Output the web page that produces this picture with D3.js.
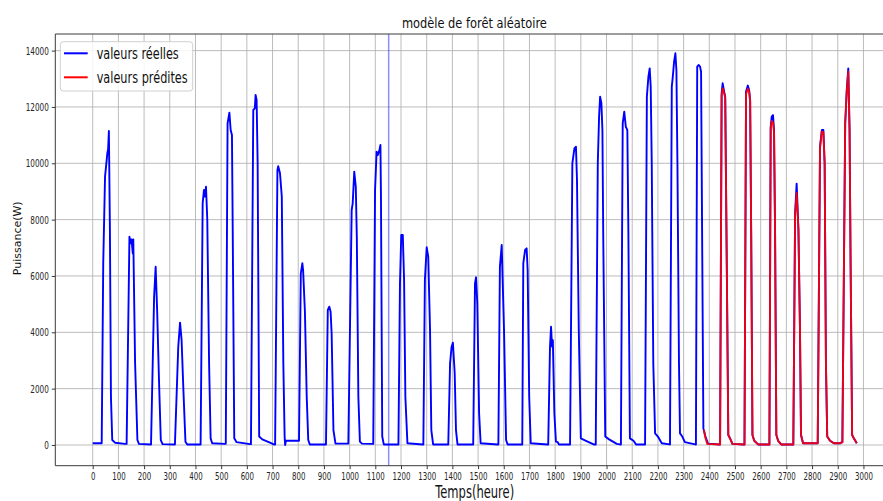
<!DOCTYPE html>
<html><head><meta charset="utf-8">
<script src="https://cdn.jsdelivr.net/npm/d3@7"></script>
<style>body{margin:0;background:#fff}</style>
</head><body>
<svg id="c" width="883" height="501"></svg>
<script>
// ---------------- data ----------------
const chartTitle = "modèle de forêt aléatoire";
const xLabel = "Temps(heure)";
const yLabel = "Puissance(W)";
const seriesNames = ["valeurs réelles", "valeurs prédites"];
const xTicks = [0,100,200,300,400,500,600,700,800,900,1000,1100,1200,1300,1400,1500,1600,1700,1800,1900,2000,2100,2200,2300,2400,2500,2600,2700,2800,2900,3000];
const yTicks = [0,2000,4000,6000,8000,10000,12000,14000];
const splitHour = 1152;

const realHours = [
  0,35,41,48,57,60,63,67,71,76,87,126,
  132,143,148,151,156,158,165,174,180,226,
  227,239,245,251,258,265,272,318,
  320,333,340,346,353,361,368,418,
  420,428,433,437,441,446,453,459,465,515,
  518,525,532,537,542,545,551,560,612,
  616,625,631,634,638,642,648,660,690,705,
  710,719,722,729,736,742,747,749,752,800,
  803,810,816,819,826,833,839,845,905,
  908,915,921,926,930,937,945,992,
  995,1008,1012,1018,1024,1028,1034,1040,1048,1088,
  1092,1099,1105,1110,1116,1120,1122,1127,1133,1187,
  1190,1196,1201,1207,1212,1217,1225,1284,
  1287,1293,1300,1306,1313,1318,1325,1381,
  1384,1391,1397,1402,1409,1414,1420,1478,
  1481,1488,1492,1497,1504,1510,1576,
  1579,1585,1592,1596,1601,1609,1615,1669,
  1672,1676,1683,1689,1693,1699,1705,1770,
  1773,1780,1784,1788,1791,1797,1803,1810,1815,1855,
  1858,1867,1875,1881,1885,1892,1900,1920,1950,
  1958,1966,1971,1975,1980,1984,1987,1995,2010,2040,2052,
  2056,2063,2069,2075,2081,2085,2091,2105,2115,2147,
  2150,2157,2163,2168,2172,2176,2182,2189,2200,2215,2245,
  2247,2254,2258,2263,2268,2272,2276,2282,2286,2295,2305,2345,
  2348,2353,2359,2364,2368,2372,2377,2385,2395,2440,
  2442,2448,2452,2459,2462,2468,2474,2480,2490,2535,
  2537,2543,2550,2555,2559,2563,2568,2575,2590,2632,
  2634,2639,2643,2648,2652,2656,2661,2668,2680,2725,
  2727,2734,2740,2747,2753,2757,2765,2817,
  2822,2831,2838,2844,2849,2854,2859,2870,2885,2910,2915,
  2918,2929,2935,2941,2946,2950,2956,2962,2974
];
const realPower = [
  60,60,6450,9525,10355,10500,11150,7632,1715,177,82,40,
  40,7395,7160,7300,6805,7300,2900,177,40,20,
  20,5265,6330,4730,2307,177,30,20,
  20,3490,4342,3720,1952,118,20,20,
  20,8580,9052,8815,9170,7987,2900,236,60,40,
  40,11420,11797,11182,11005,7630,236,100,30,
  30,11892,11950,12425,12250,10000,300,200,80,20,
  20,9760,9900,9645,8815,2900,300,0,150,150,
  150,6095,6450,6200,4730,1715,177,20,20,
  20,4792,4910,4730,3965,530,50,50,
  50,8342,8580,9702,9170,7395,1715,118,50,40,
  40,9052,10415,10297,10470,10650,8815,300,20,20,
  20,5740,7455,7455,5857,1715,60,20,
  20,5857,7018,6687,4087,530,20,20,
  20,2900,3490,3632,2545,530,20,20,
  20,5740,5952,5030,1125,60,20,
  20,6332,7100,5740,4087,177,20,20,
  20,6450,6922,6980,6200,1715,60,20,
  20,3490,4200,3490,3720,1125,118,100,20,20,
  20,10000,10532,10590,9407,4087,236,150,20,
  20,10000,11655,12365,12130,11180,7630,300,200,40,20,
  20,11420,11832,11300,11180,7630,236,150,20,20,
  20,12365,13075,13370,12720,10000,2900,414,300,60,20,
  20,12720,13075,13607,13905,13310,10000,2900,414,300,100,20,
  20,13430,13490,13430,13250,7630,590,300,50,20,
  20,12485,12840,12485,12365,6450,355,250,40,20,
  20,12545,12760,12600,12250,7630,355,150,20,20,
  20,11300,11655,11710,11180,7630,355,150,20,20,
  20,8225,9280,7630,4087,355,60,60,
  60,10590,11182,11182,10000,2900,300,150,60,60,100,
  100,11420,12600,13370,11180,6450,355,250,60
];

const predHours = [
  2379,2385,2392,2440,
  2442,2448,2452,2459,2462,2468,2474,2480,2490,2535,
  2537,2543,2550,2555,2559,2563,2568,2575,2590,2632,
  2634,2639,2643,2648,2652,2656,2661,2668,2680,2725,
  2727,2734,2740,2747,2753,2757,2765,2817,
  2822,2831,2838,2844,2849,2854,2859,2870,2885,2910,2915,
  2918,2929,2935,2941,2946,2950,2956,2962,2974
];
const predPower = [
  532,250,40,20,
  20,12400,12660,12450,12300,6450,355,250,40,20,
  20,12450,12650,12560,12200,7630,355,150,20,20,
  20,11250,11500,11450,11100,7630,355,150,20,20,
  20,8150,8950,7630,4087,355,60,60,
  60,10550,11130,11100,10000,2900,300,150,60,60,100,
  100,11420,12550,13250,11180,6450,355,250,60
];

// ---------------- drawing ----------------
const svg = d3.select("#c");
svg.append("rect").attr("width", 883).attr("height", 501).attr("fill", "#fff");

const L = 55.3, R = 893.5, T = 34, B = 465.7;
const x = d3.scaleLinear().domain([-145.6, 3117]).range([L, R]);
const y = d3.scaleLinear().domain([-735, 14590]).range([B, T]);
const FONT = "DejaVu Sans, sans-serif";

function squeeze(sel, f) {
  sel.each(function () {
    const w = this.getComputedTextLength();
    this.setAttribute("textLength", (w * f).toFixed(2));
    this.setAttribute("lengthAdjust", "spacingAndGlyphs");
  });
}
function fitTo(sel, w) {
  sel.attr("textLength", w).attr("lengthAdjust", "spacingAndGlyphs");
}

svg.append("clipPath").attr("id", "clip")
  .append("rect").attr("x", L).attr("y", T).attr("width", R - L).attr("height", B - T);

// grid
const grid = svg.append("g");
grid.selectAll("line.gx").data(xTicks).join("line")
  .attr("x1", d => x(d)).attr("x2", d => x(d)).attr("y1", T).attr("y2", B)
  .attr("stroke", "#b0b0b0").attr("stroke-width", 1).attr("stroke-opacity", 0.85);
grid.selectAll("line.gy").data(yTicks).join("line")
  .attr("x1", L).attr("x2", R).attr("y1", d => y(d)).attr("y2", d => y(d))
  .attr("stroke", "#b0b0b0").attr("stroke-width", 1).attr("stroke-opacity", 0.85);

// lines
const plot = svg.append("g").attr("clip-path", "url(#clip)");
const line = d3.line().x(d => x(d[0])).y(d => y(d[1]));
const realData = realHours.map((h, i) => [h, realPower[i]]);
const predData = predHours.map((h, i) => [h, predPower[i]]);

plot.append("line")
  .attr("x1", x(splitHour)).attr("x2", x(splitHour)).attr("y1", T).attr("y2", B)
  .attr("stroke", "#0000ff").attr("stroke-opacity", 0.45).attr("stroke-width", 1.5);

plot.append("path").datum(realData).attr("d", line)
  .attr("fill", "none").attr("stroke", "#0000ff").attr("stroke-width", 1.9)
  .attr("stroke-linejoin", "round");
plot.append("path").datum(predData).attr("d", line)
  .attr("fill", "none").attr("stroke", "#ff0000").attr("stroke-width", 1.9)
  .attr("stroke-opacity", 0.92).attr("stroke-linejoin", "round");

// spines
const spine = "#3a3a3a";
svg.append("line").attr("x1", L).attr("x2", L).attr("y1", T).attr("y2", B).attr("stroke", spine).attr("stroke-width", 1);
svg.append("line").attr("x1", L).attr("x2", R).attr("y1", B).attr("y2", B).attr("stroke", spine).attr("stroke-width", 1);
svg.append("line").attr("x1", L).attr("x2", R).attr("y1", T).attr("y2", T).attr("stroke", spine).attr("stroke-width", 1);

// axes
const xAxis = svg.append("g").attr("transform", `translate(0,${B})`)
  .call(d3.axisBottom(x).tickValues(xTicks).tickSize(3.5).tickPadding(3).tickFormat(d3.format("d")));
const yAxis = svg.append("g").attr("transform", `translate(${L},0)`)
  .call(d3.axisLeft(y).tickValues(yTicks).tickSize(3.5).tickPadding(3).tickFormat(d3.format("d")));
[xAxis, yAxis].forEach(a => {
  a.select(".domain").remove();
  a.selectAll(".tick line").attr("stroke", spine);
  a.selectAll(".tick text").attr("font-family", FONT).attr("font-size", 11).attr("fill", "#262626");
});
squeeze(xAxis.selectAll(".tick text"), 0.64);
squeeze(yAxis.selectAll(".tick text"), 0.66);

// title and labels
const title = svg.append("text").attr("x", 474.4).attr("y", 27.5).attr("text-anchor", "middle")
  .attr("font-family", FONT).attr("font-size", 14.5).attr("fill", "#111").text(chartTitle);
fitTo(title, 145);
const xl = svg.append("text").attr("x", 474.7).attr("y", 498).attr("text-anchor", "middle")
  .attr("font-family", FONT).attr("font-size", 17).attr("fill", "#111").text(xLabel);
fitTo(xl, 79);
svg.append("text").attr("transform", "translate(20.8,238.3) rotate(-90)").attr("text-anchor", "middle")
  .attr("font-family", FONT).attr("font-size", 11).attr("fill", "#111").text(yLabel);

// legend
const lg = svg.append("g");
lg.append("rect").attr("x", 60.3).attr("y", 41.7).attr("width", 132.4).attr("height", 49.3).attr("rx", 3)
  .attr("fill", "#fff").attr("fill-opacity", 0.85).attr("stroke", "#d0d0d0").attr("stroke-width", 1);
const colors = ["#0000ff", "#ff0000"];
const rows = [53.3, 77.3];
const legendWidths = [82, 91];
seriesNames.forEach((n, i) => {
  lg.append("line").attr("x1", 64).attr("x2", 87.7).attr("y1", rows[i]).attr("y2", rows[i])
    .attr("stroke", colors[i]).attr("stroke-width", 2);
  const t = lg.append("text").attr("x", 96.7).attr("y", rows[i] + 6).attr("font-family", FONT)
    .attr("font-size", 16).attr("fill", "#111").text(n);
  fitTo(t, legendWidths[i]);
});
</script>
</body></html>
